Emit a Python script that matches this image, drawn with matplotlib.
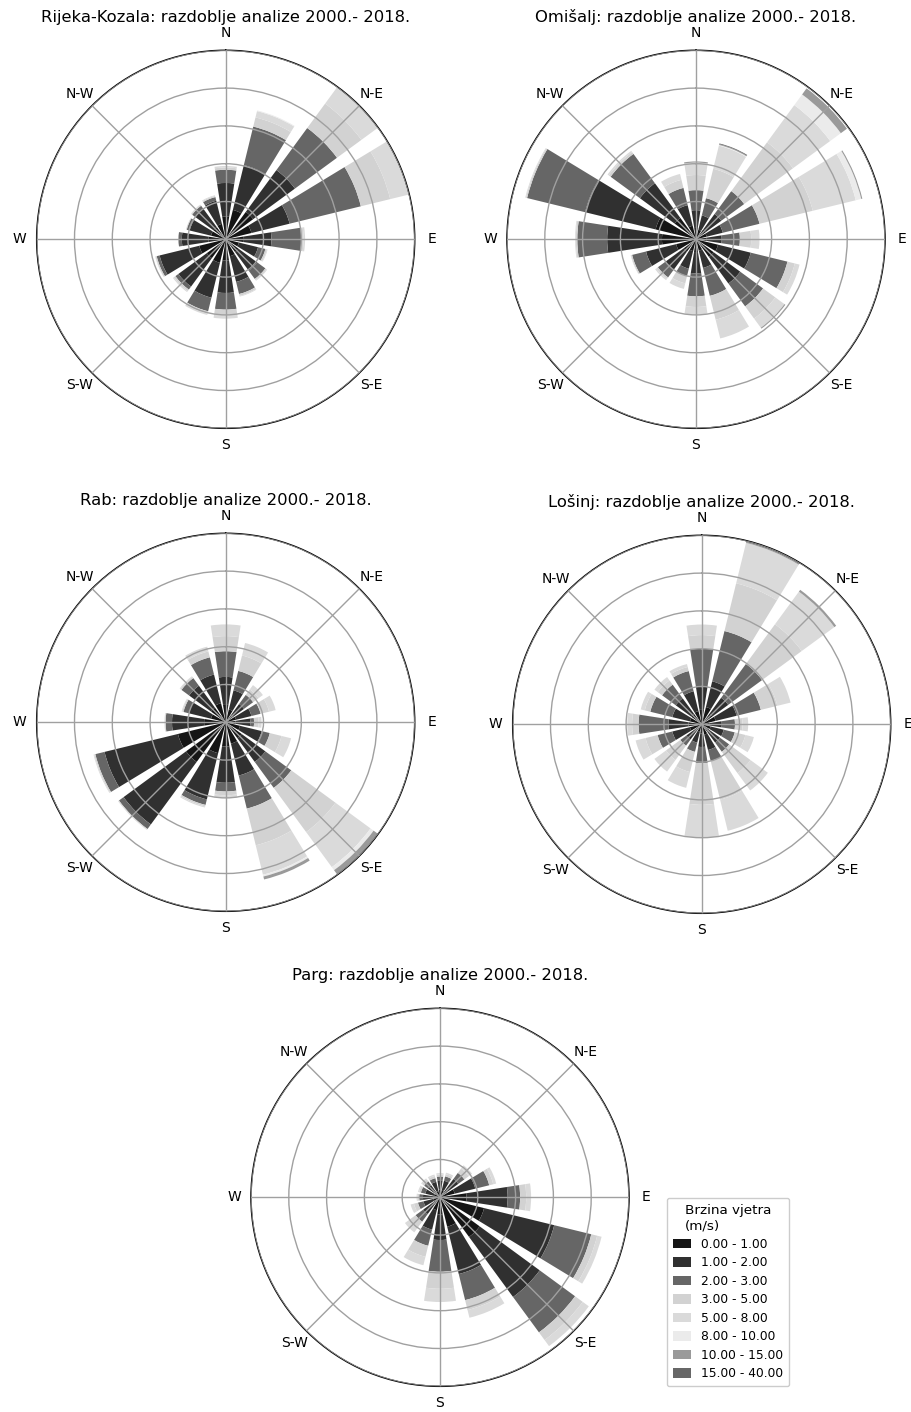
import numpy as np
import matplotlib
matplotlib.use("Agg")
import matplotlib.pyplot as plt
from matplotlib.patches import Patch

plt.rcParams['font.family'] = ['DejaVu Sans']

# ---------------- data ----------------
directions = ["N", "NNE", "NE", "ENE", "E", "ESE", "SE", "SSE",
              "S", "SSW", "SW", "WSW", "W", "WNW", "NW", "NNW"]
direction_deg = [0, 22.5, 45, 67.5, 90, 112.5, 135, 157.5,
                 180, 202.5, 225, 247.5, 270, 292.5, 315, 337.5]
speed_edges = [0, 1, 2, 3, 5, 8, 10, 15, 40]
compass_labels = ["N", "N-E", "E", "S-E", "S", "S-W", "W", "N-W"]
bin_colors = ["#151515", "#303030", "#666666", "#d2d2d2",
              "#dadada", "#ebebeb", "#9a9a9a", "#676767"]
ring_values = [1, 2, 3, 4, 5]
r_max = 5.0

# frequencies per direction (rows) and speed class (columns), in ring units
rijeka = [
    [0.60, 0.89, 0.35, 0.06, 0.04, 0.00, 0.00, 0.00],
    [0.80, 1.22, 1.05, 0.25, 0.17, 0.02, 0.00, 0.00],
    [0.90, 1.37, 1.38, 0.80, 0.60, 0.05, 0.00, 0.00],
    [0.70, 1.04, 1.94, 0.80, 0.65, 0.02, 0.00, 0.00],
    [0.48, 0.73, 0.79, 0.06, 0.04, 0.00, 0.00, 0.00],
    [0.36, 0.52, 0.20, 0.04, 0.02, 0.00, 0.00, 0.00],
    [0.42, 0.61, 0.27, 0.04, 0.02, 0.00, 0.00, 0.00],
    [0.46, 0.70, 0.33, 0.05, 0.02, 0.00, 0.00, 0.00],
    [0.56, 0.86, 0.44, 0.14, 0.10, 0.00, 0.00, 0.00],
    [0.64, 0.95, 0.37, 0.06, 0.04, 0.00, 0.00, 0.00],
    [0.62, 0.93, 0.10, 0.05, 0.03, 0.00, 0.00, 0.00],
    [0.72, 1.08, 0.08, 0.03, 0.01, 0.00, 0.00, 0.00],
    [0.46, 0.70, 0.09, 0.00, 0.00, 0.00, 0.00, 0.00],
    [0.40, 0.58, 0.08, 0.02, 0.00, 0.00, 0.00, 0.00],
    [0.40, 0.60, 0.10, 0.03, 0.01, 0.00, 0.00, 0.00],
    [0.42, 0.63, 0.10, 0.03, 0.02, 0.00, 0.00, 0.00],
]
omisalj = [
    [0.30, 0.47, 0.53, 0.40, 0.33, 0.00, 0.03, 0.00],
    [0.26, 0.39, 0.47, 0.80, 0.63, 0.02, 0.02, 0.02],
    [0.33, 0.50, 0.75, 1.60, 1.22, 0.35, 0.20, 0.00],
    [0.29, 0.44, 1.00, 1.45, 1.17, 0.15, 0.03, 0.00],
    [0.27, 0.41, 0.48, 0.30, 0.22, 0.00, 0.00, 0.00],
    [0.60, 0.89, 1.00, 0.20, 0.13, 0.00, 0.00, 0.00],
    [0.58, 0.87, 0.75, 0.40, 0.30, 0.00, 0.03, 0.00],
    [0.31, 0.47, 0.76, 0.65, 0.51, 0.00, 0.00, 0.00],
    [0.36, 0.54, 0.61, 0.28, 0.20, 0.00, 0.00, 0.00],
    [0.32, 0.48, 0.20, 0.20, 0.15, 0.00, 0.00, 0.00],
    [0.40, 0.60, 0.25, 0.05, 0.04, 0.00, 0.00, 0.00],
    [0.54, 0.82, 0.38, 0.03, 0.01, 0.00, 0.00, 0.00],
    [0.90, 1.45, 0.79, 0.04, 0.02, 0.00, 0.00, 0.00],
    [1.10, 1.92, 1.58, 0.03, 0.02, 0.00, 0.00, 0.00],
    [0.70, 1.14, 0.96, 0.06, 0.04, 0.00, 0.00, 0.00],
    [0.37, 0.56, 0.47, 0.22, 0.16, 0.00, 0.00, 0.00],
]
rab = [
    [0.48, 0.72, 0.68, 0.40, 0.31, 0.00, 0.00, 0.00],
    [0.35, 0.52, 0.53, 0.42, 0.34, 0.00, 0.00, 0.00],
    [0.24, 0.36, 0.30, 0.18, 0.14, 0.00, 0.00, 0.00],
    [0.28, 0.42, 0.25, 0.23, 0.18, 0.00, 0.00, 0.00],
    [0.26, 0.39, 0.10, 0.12, 0.08, 0.00, 0.00, 0.00],
    [0.39, 0.59, 0.22, 0.32, 0.26, 0.00, 0.00, 0.00],
    [0.52, 0.78, 0.85, 1.45, 1.15, 0.10, 0.13, 0.00],
    [0.58, 0.87, 0.90, 1.00, 0.80, 0.05, 0.08, 0.00],
    [0.64, 0.96, 0.23, 0.10, 0.07, 0.00, 0.00, 0.00],
    [0.84, 1.26, 0.15, 0.04, 0.03, 0.00, 0.00, 0.00],
    [1.30, 2.05, 0.15, 0.02, 0.01, 0.00, 0.00, 0.00],
    [1.30, 2.00, 0.25, 0.03, 0.02, 0.00, 0.00, 0.00],
    [0.57, 0.85, 0.17, 0.02, 0.01, 0.00, 0.00, 0.00],
    [0.40, 0.60, 0.15, 0.03, 0.02, 0.00, 0.00, 0.00],
    [0.48, 0.72, 0.25, 0.04, 0.02, 0.00, 0.00, 0.00],
    [0.52, 0.78, 0.47, 0.16, 0.13, 0.00, 0.00, 0.00],
]
losinj = [
    [0.40, 0.60, 1.00, 0.36, 0.28, 0.00, 0.00, 0.00],
    [0.47, 0.70, 1.37, 1.30, 1.10, 0.00, 0.05, 0.00],
    [0.35, 0.52, 1.11, 1.30, 1.07, 0.00, 0.06, 0.00],
    [0.38, 0.57, 0.66, 0.45, 0.36, 0.00, 0.00, 0.00],
    [0.21, 0.32, 0.35, 0.20, 0.15, 0.00, 0.00, 0.00],
    [0.24, 0.36, 0.30, 0.29, 0.23, 0.00, 0.00, 0.00],
    [0.24, 0.36, 0.30, 0.70, 0.57, 0.00, 0.00, 0.00],
    [0.28, 0.42, 0.30, 1.05, 0.85, 0.00, 0.00, 0.00],
    [0.24, 0.36, 0.43, 1.10, 0.87, 0.00, 0.00, 0.00],
    [0.20, 0.30, 0.25, 0.55, 0.43, 0.00, 0.00, 0.00],
    [0.20, 0.30, 0.20, 0.47, 0.38, 0.00, 0.00, 0.00],
    [0.32, 0.48, 0.40, 0.33, 0.27, 0.00, 0.00, 0.00],
    [0.35, 0.53, 0.79, 0.17, 0.13, 0.00, 0.00, 0.00],
    [0.32, 0.48, 0.60, 0.15, 0.11, 0.00, 0.00, 0.00],
    [0.34, 0.51, 0.45, 0.14, 0.11, 0.00, 0.00, 0.00],
    [0.36, 0.54, 0.55, 0.11, 0.08, 0.00, 0.00, 0.00],
]
parg = [
    [0.20, 0.25, 0.10, 0.05, 0.04, 0.00, 0.00, 0.00],
    [0.20, 0.25, 0.12, 0.06, 0.04, 0.00, 0.00, 0.00],
    [0.25, 0.35, 0.20, 0.14, 0.11, 0.00, 0.00, 0.00],
    [0.40, 0.56, 0.38, 0.11, 0.08, 0.00, 0.00, 0.00],
    [0.70, 1.09, 0.33, 0.16, 0.13, 0.00, 0.00, 0.00],
    [1.20, 1.91, 1.01, 0.16, 0.12, 0.00, 0.00, 0.00],
    [1.30, 1.97, 1.16, 0.25, 0.20, 0.00, 0.00, 0.00],
    [0.80, 1.29, 0.71, 0.27, 0.21, 0.00, 0.00, 0.00],
    [0.45, 0.68, 0.84, 0.45, 0.35, 0.00, 0.00, 0.00],
    [0.35, 0.53, 0.44, 0.30, 0.23, 0.00, 0.00, 0.00],
    [0.22, 0.33, 0.25, 0.20, 0.15, 0.00, 0.00, 0.00],
    [0.18, 0.27, 0.15, 0.11, 0.09, 0.00, 0.00, 0.00],
    [0.18, 0.27, 0.10, 0.04, 0.03, 0.00, 0.00, 0.00],
    [0.16, 0.24, 0.12, 0.05, 0.03, 0.00, 0.00, 0.00],
    [0.16, 0.24, 0.12, 0.06, 0.04, 0.00, 0.00, 0.00],
    [0.17, 0.25, 0.10, 0.06, 0.04, 0.00, 0.00, 0.00],
]

stations = [
    ("Rijeka-Kozala: razdoblje analize 2000.- 2018.", rijeka),
    ("Omišalj: razdoblje analize 2000.- 2018.", omisalj),
    ("Rab: razdoblje analize 2000.- 2018.", rab),
    ("Lošinj: razdoblje analize 2000.- 2018.", losinj),
    ("Parg: razdoblje analize 2000.- 2018.", parg),
]

# ---------------- layout ----------------
W, H = 911, 1412
fig = plt.figure(figsize=(W / 100, H / 100), dpi=100)

R_PX = 189
centers_px = [(225.7, 239.3), (696.0, 239.3), (225.7, 722.3),
              (701.7, 724.3), (440.0, 1197.3)]

speed_labels = [f"{a:.2f} - {b:.2f}" for a, b in zip(speed_edges[:-1], speed_edges[1:])]
theta = np.radians(direction_deg)
width = np.radians(22.5) * 0.78

for (title, table), (cx, cy) in zip(stations, centers_px):
    rect = [(cx - R_PX) / W, (H - cy - R_PX) / H, 2 * R_PX / W, 2 * R_PX / H]
    ax = fig.add_axes(rect, projection="polar")
    ax.set_theta_zero_location("N")
    ax.set_theta_direction(-1)
    vals = np.array(table)
    bottom = np.zeros(len(directions))
    for i in range(vals.shape[1]):
        ax.bar(theta, vals[:, i], width=width, bottom=bottom,
               color=bin_colors[i], edgecolor="none", linewidth=0, zorder=1)
        bottom = bottom + vals[:, i]
    ax.set_ylim(0, r_max)
    ax.set_yticks(ring_values)
    ax.set_yticklabels([])
    ax.set_xticks(np.radians(np.arange(0, 360, 45)))
    ax.set_xticklabels(compass_labels, fontsize=10)
    ax.tick_params(axis="x", pad=1.8)
    ax.grid(True, color="#a0a0a0", linewidth=1.0)
    ax.set_axisbelow(False)
    ax.spines["polar"].set_color("black")
    ax.spines["polar"].set_linewidth(1.1)
    ax.text(0.5, 1.087, title, transform=ax.transAxes, ha="center",
            va="center", fontsize=11.8)

handles = [Patch(facecolor=c, edgecolor="none") for c in bin_colors]
leg = fig.legend(handles, speed_labels, loc="upper left",
                 bbox_to_anchor=(667 / W, 1 - 1198 / H), borderaxespad=0,
                 title="Brzina vjetra\n(m/s)", fontsize=8.8, title_fontsize=9.7,
                 handlelength=1.5, handleheight=0.8,
                 labelspacing=0.45, borderpad=0.5, framealpha=1,
                 edgecolor="#cccccc")
leg.get_title().set_multialignment("left")

fig.savefig("out.png", dpi=100)
